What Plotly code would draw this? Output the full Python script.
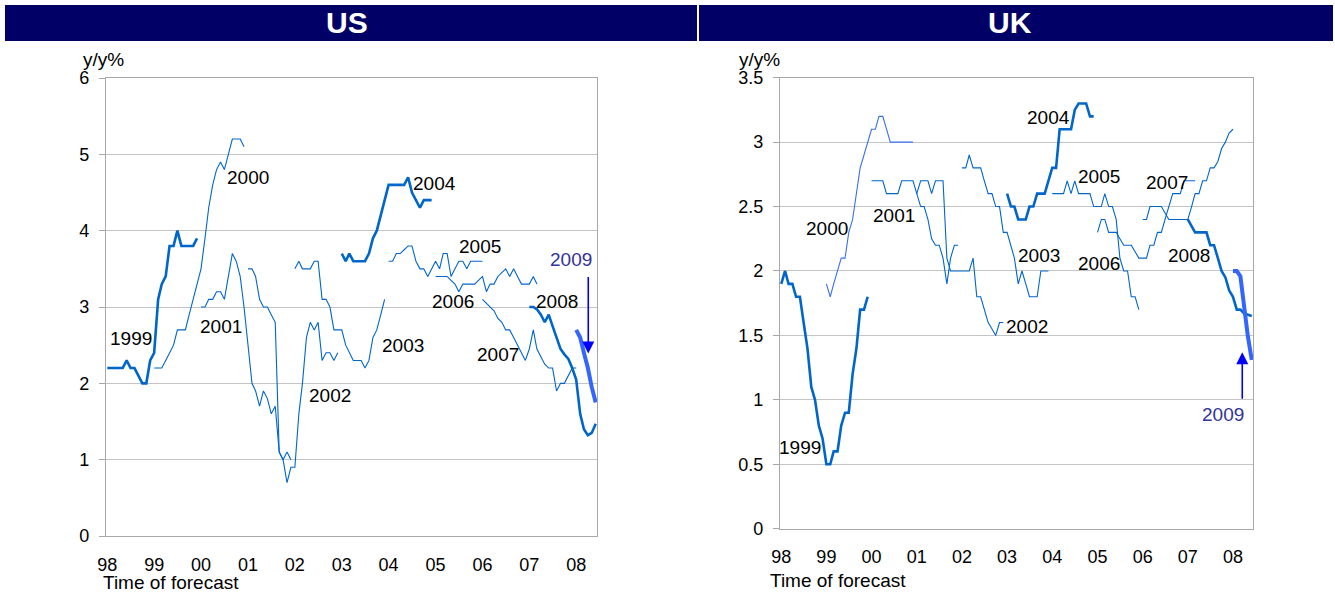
import numpy as np
import pandas as pd
import plotly.graph_objects as go

W, H = 1335, 594

# ---------------- data: GDP growth forecasts (y/y %), one value per month ----------------
YEARS = ["1999", "2000", "2001", "2002", "2003", "2004", "2005", "2006", "2007", "2008", "2009"]
SERIES_START = {"1999": "1998-01-01", "2000": "1999-01-01", "2001": "2000-01-01",
                "2002": "2001-01-01", "2003": "2002-01-01", "2004": "2003-01-01",
                "2005": "2004-01-01", "2006": "2005-01-01", "2007": "2006-01-01",
                "2008": "2007-01-01", "2009": "2008-01-01"}

US_1999 = [2.2, 2.2, 2.2, 2.2, 2.2, 2.3, 2.2, 2.2, 2.1, 2.0, 2.0, 2.3, 2.4, 3.1, 3.3, 3.4, 3.8, 3.8,
           4.0, 3.8, 3.8, 3.8, 3.8, 3.9]
US_2000 = [2.2, 2.2, 2.2, 2.3, 2.4, 2.5, 2.7, 2.7, 2.7, 2.9, 3.1, 3.3, 3.5, 3.9, 4.3, 4.6, 4.8, 4.9,
           4.8, 5.0, 5.2, 5.2, 5.2, 5.1]
US_2001 = [3.0, 3.0, 3.1, 3.1, 3.2, 3.2, 3.1, 3.4, 3.7, 3.6, 3.4, 3.0, 2.5, 2.0, 1.9, 1.7, 1.9, 1.8,
           1.6, 1.7, 1.1, 1.0, 1.1, 1.0]
US_2002 = [3.5, 3.5, 3.4, 3.1, 3.0, 3.0, 2.9, 2.8, 1.1, 1.0, 0.7, 0.9, 0.9, 1.6, 2.0, 2.6, 2.8, 2.7,
           2.8, 2.3, 2.4, 2.4, 2.3, 2.4]
US_2003 = [3.5, 3.6, 3.5, 3.5, 3.5, 3.6, 3.6, 3.1, 3.1, 3.0, 2.7, 2.7, 2.7, 2.5, 2.4, 2.3, 2.3, 2.3,
           2.2, 2.3, 2.6, 2.7, 2.9, 3.1]
US_2004 = [3.7, 3.6, 3.7, 3.6, 3.6, 3.6, 3.6, 3.7, 3.9, 4.0, 4.2, 4.4, 4.6, 4.6, 4.6, 4.6, 4.6, 4.7,
           4.5, 4.4, 4.3, 4.4, 4.4, 4.4]
US_2005 = [3.6, 3.6, 3.7, 3.7, 3.75, 3.8, 3.8, 3.6, 3.5, 3.5, 3.4, 3.5, 3.6, 3.5, 3.7, 3.7, 3.4, 3.5,
           3.6, 3.6, 3.5, 3.6, 3.6, 3.6, 3.6]
US_2006 = [3.4, 3.4, 3.4, 3.4, 3.35, 3.3, 3.2, 3.3, 3.3, 3.3, 3.3, 3.35, 3.4, 3.2, 3.3, 3.3, 3.4, 3.45,
           3.5, 3.4, 3.5, 3.4, 3.3, 3.3, 3.3, 3.4, 3.3]
US_2007 = [3.1, 3.05, 3.0, 2.95, 2.85, 2.8, 2.7, 2.7, 2.6, 2.5, 2.4, 2.3, 2.45, 2.7, 2.45, 2.35, 2.25,
           2.2, 2.2, 1.9, 2.0, 2.0, 2.1, 2.2, 2.2]
US_2008 = [3.0, 3.0, 2.97, 2.9, 2.8, 2.9, 2.75, 2.6, 2.45, 2.38, 2.32, 2.2, 2.05, 1.6, 1.4, 1.32, 1.35,
           1.47]
US_2009 = [2.7, 2.6, 2.4, 2.2, 1.95, 1.75]

UK_1999 = [1.9, 2.0, 1.9, 1.9, 1.8, 1.8, 1.6, 1.4, 1.1, 1.0, 0.8, 0.7, 0.5, 0.5, 0.6, 0.6, 0.8, 0.9,
           0.9, 1.2, 1.4, 1.7, 1.7, 1.8]
UK_2000 = [1.9, 1.8, 1.9, 2.0, 2.1, 2.1, 2.3, 2.4, 2.6, 2.8, 2.9, 3.0, 3.1, 3.1, 3.2, 3.2, 3.1, 3.0,
           3.0, 3.0, 3.0, 3.0, 3.0, 3.0]
UK_2001 = [2.7, 2.7, 2.7, 2.7, 2.6, 2.6, 2.6, 2.6, 2.7, 2.7, 2.7, 2.7, 2.6, 2.5, 2.5, 2.4, 2.25, 2.2,
           2.2, 2.1, 1.9, 2.1, 2.2, 2.2]
UK_2002 = [2.6, 2.7, 2.7, 2.7, 2.6, 2.7, 2.7, 2.7, 2.1, 2.0, 2.0, 2.0, 2.0, 2.0, 2.0, 2.1, 1.8, 1.8,
           1.7, 1.6, 1.55, 1.5, 1.6, 1.6]
UK_2003 = [2.8, 2.8, 2.9, 2.8, 2.8, 2.8, 2.7, 2.6, 2.6, 2.5, 2.5, 2.3, 2.3, 2.2, 2.1, 1.9, 2.0, 1.9,
           1.8, 1.8, 1.8, 2.0, 2.0, 2.0]
UK_2004 = [2.6, 2.5, 2.5, 2.4, 2.4, 2.4, 2.5, 2.5, 2.6, 2.6, 2.6, 2.7, 2.8, 2.8, 3.1, 3.1, 3.1, 3.1,
           3.25, 3.3, 3.3, 3.3, 3.2, 3.2]
UK_2005 = [2.6, 2.6, 2.6, 2.6, 2.7, 2.6, 2.7, 2.6, 2.6, 2.6, 2.6, 2.5, 2.5, 2.5, 2.6, 2.5, 2.5, 2.4,
           2.1, 2.0, 2.0, 1.8, 1.8, 1.7]
UK_2006 = [2.3, 2.4, 2.4, 2.3, 2.3, 2.3, 2.25, 2.2, 2.2, 2.2, 2.15, 2.1, 2.1, 2.1, 2.2, 2.2, 2.3, 2.3,
           2.4, 2.5, 2.6, 2.6, 2.6, 2.7, 2.7, 2.7, 2.7]
UK_2007 = [2.4, 2.4, 2.5, 2.5, 2.5, 2.5, 2.45, 2.4, 2.4, 2.4, 2.4, 2.4, 2.4, 2.5, 2.6, 2.6, 2.7, 2.7,
           2.8, 2.8, 2.85, 2.95, 3.0, 3.07, 3.1]
UK_2008 = [2.4, 2.35, 2.3, 2.3, 2.3, 2.3, 2.2, 2.2, 2.1, 2.0, 1.95, 1.85, 1.8, 1.7, 1.7, 1.67, 1.66,
           1.65]
UK_2009 = [2.0, 2.0, 1.96, 1.72, 1.49, 1.31]

US_DATA = {"1999": US_1999, "2000": US_2000, "2001": US_2001, "2002": US_2002, "2003": US_2003,
           "2004": US_2004, "2005": US_2005, "2006": US_2006, "2007": US_2007, "2008": US_2008,
           "2009": US_2009}
UK_DATA = {"1999": UK_1999, "2000": UK_2000, "2001": UK_2001, "2002": UK_2002, "2003": UK_2003,
           "2004": UK_2004, "2005": UK_2005, "2006": UK_2006, "2007": UK_2007, "2008": UK_2008,
           "2009": UK_2009}

X_TICK_VALS = ["1998-01-01", "1999-01-01", "2000-01-01", "2001-01-01", "2002-01-01", "2003-01-01",
               "2004-01-01", "2005-01-01", "2006-01-01", "2007-01-01", "2008-01-01"]
X_TICK_TEXT = ["98", "99", "00", "01", "02", "03", "04", "05", "06", "07", "08"]
US_Y_TICKS = [0, 1, 2, 3, 4, 5, 6]
UK_Y_TICKS = [0, 0.5, 1, 1.5, 2, 2.5, 3, 3.5]

# ---------------- layout / style (positions are months since Jan-1998) ----------------
US_LABEL_POS = {"1999": (6.0, 2.59), "2000": (36.1, 4.69), "2001": (29.2, 2.75),
                "2002": (57.0, 1.84), "2003": (75.8, 2.50), "2004": (83.8, 4.62),
                "2005": (95.4, 3.79), "2006": (88.4, 3.07), "2007": (99.9, 2.38),
                "2008": (115.1, 3.07), "2009": (118.6, 3.62)}
UK_LABEL_POS = {"1999": (5.0, 0.63), "2000": (12.2, 2.33), "2001": (30.0, 2.43),
                "2002": (65.2, 1.57), "2003": (68.6, 2.12), "2004": (71.1, 3.19),
                "2005": (84.3, 2.73), "2006": (84.3, 2.06), "2007": (102.4, 2.69),
                "2008": (108.2, 2.12), "2009": (117.4, 0.89)}

BLUE = "#0066CC"
STYLE = {"1999": (BLUE, 2.6), "2000": (BLUE, 1.1), "2001": (BLUE, 1.1), "2002": (BLUE, 1.1),
         "2003": (BLUE, 1.1), "2004": (BLUE, 2.6), "2005": (BLUE, 1.1), "2006": (BLUE, 1.1),
         "2007": (BLUE, 1.1), "2008": (BLUE, 2.6), "2009": ("#3366FF", 4.0)}
UK_2000_COLOR = "#3A70F0"

FONT = "Liberation Sans, Arial, sans-serif"
GRID = "#C4C4C4"
AXIS = "#A8A8A8"


def m2d(m):
    base = pd.Timestamp("1998-01-01")
    mi = int(np.floor(m))
    t = base + pd.DateOffset(months=mi) + pd.Timedelta(days=(m - mi) * 30.44)
    return t.strftime("%Y-%m-%d %H:%M")


def px(x):
    return x / W


def py(y):
    return 1 - y / H


X_RANGE = [m2d(-0.31), m2d(125.33)]

fig = go.Figure()


def add_panel(data, xa, ya, uk=False):
    for yr in YEARS:
        vals = data[yr]
        x = pd.date_range(start=SERIES_START[yr], periods=len(vals), freq="MS")
        color, width = STYLE[yr]
        if uk and yr == "2000":
            color = UK_2000_COLOR
        fig.add_trace(go.Scatter(x=x, y=vals, mode="lines",
                                 line=dict(color=color, width=width),
                                 xaxis=xa, yaxis=ya, showlegend=False, hoverinfo="skip"))


add_panel(US_DATA, "x", "y")
add_panel(UK_DATA, "x2", "y2", uk=True)

axis_common_x = dict(type="date", range=X_RANGE, tickvals=X_TICK_VALS, ticktext=X_TICK_TEXT,
                     showgrid=False, zeroline=False, showline=True, linecolor=AXIS, linewidth=1,
                     mirror=True, ticks="", ticklabelstandoff=12, automargin=False,
                     tickfont=dict(family=FONT, size=18, color="#000"))
axis_common_y = dict(showgrid=True, gridcolor=GRID, gridwidth=1, zeroline=False,
                     showline=True, linecolor=AXIS, linewidth=1.3, mirror=True,
                     ticks="outside", ticklen=6, tickcolor=AXIS, tickwidth=1, automargin=False,
                     ticklabelstandoff=6, tickfont=dict(family=FONT, size=18, color="#000"))

fig.update_layout(
    width=W, height=H, margin=dict(l=0, r=0, t=0, b=0, pad=0, autoexpand=False),
    paper_bgcolor="white", plot_bgcolor="white", showlegend=False,
    xaxis=dict(domain=[px(106), px(597)], anchor="y", **axis_common_x),
    yaxis=dict(domain=[py(536), py(78)], anchor="x", range=[0, 6], tickvals=US_Y_TICKS,
               **axis_common_y),
    xaxis2=dict(domain=[px(780), px(1253)], anchor="y2", **axis_common_x),
    yaxis2=dict(domain=[py(528.7), py(77.7)], anchor="x2", range=[0, 3.5], tickvals=UK_Y_TICKS,
                **axis_common_y),
)

# header bars
shapes = []
for x0, x1 in [(5, 697), (699, 1333)]:
    shapes.append(dict(type="rect", xref="paper", yref="paper", x0=px(x0), x1=px(x1),
                       y0=py(41), y1=py(5), fillcolor="#000066", line=dict(width=0),
                       layer="below"))
fig.update_layout(shapes=shapes)

ann = []
for txt, cx in [("US", 347), ("UK", 1010)]:
    ann.append(dict(text="<b>%s</b>" % txt, x=px(cx), y=py(23), xref="paper", yref="paper",
                    xanchor="center", yanchor="middle", showarrow=False,
                    font=dict(family=FONT, size=30, color="white")))

for cx in [103.7, 760]:
    ann.append(dict(text="y/y%", x=px(cx), y=py(59), xref="paper", yref="paper",
                    xanchor="center", yanchor="middle", showarrow=False,
                    font=dict(family=FONT, size=19, color="#000")))

for lx, cy in [(100.7, 582.5), (768, 580)]:
    ann.append(dict(text="Time of forecast", x=px(lx), y=py(cy), xref="paper", yref="paper",
                    xanchor="left", yanchor="middle", showarrow=False,
                    font=dict(family=FONT, size=19, color="#000")))

for pos, xr, yr_ in [(US_LABEL_POS, "x", "y"), (UK_LABEL_POS, "x2", "y2")]:
    for yr, (m, v) in pos.items():
        col = "#333399" if yr == "2009" else "#000"
        ann.append(dict(text=yr, x=m2d(m), y=v, xref=xr, yref=yr_, xanchor="center",
                        yanchor="middle", showarrow=False,
                        font=dict(family=FONT, size=19, color=col)))

# 2009 arrows
ann.append(dict(text="", x=m2d(123.1), y=2.39, xref="x", yref="y", showarrow=True,
                ax=0, ay=-78, arrowcolor="#0000FF", arrowwidth=1.6, arrowhead=2,
                arrowsize=1.5, standoff=0))
ann.append(dict(text="", x=m2d(122.5), y=1.37, xref="x2", yref="y2", showarrow=True,
                ax=0, ay=48, arrowcolor="#0000FF", arrowwidth=1.6, arrowhead=2,
                arrowsize=1.5, standoff=0))

fig.update_layout(annotations=ann)
fig.write_html("out.html", config={"responsive": False},
               post_script="document.body.style.margin='0';document.body.style.overflow='hidden';")
